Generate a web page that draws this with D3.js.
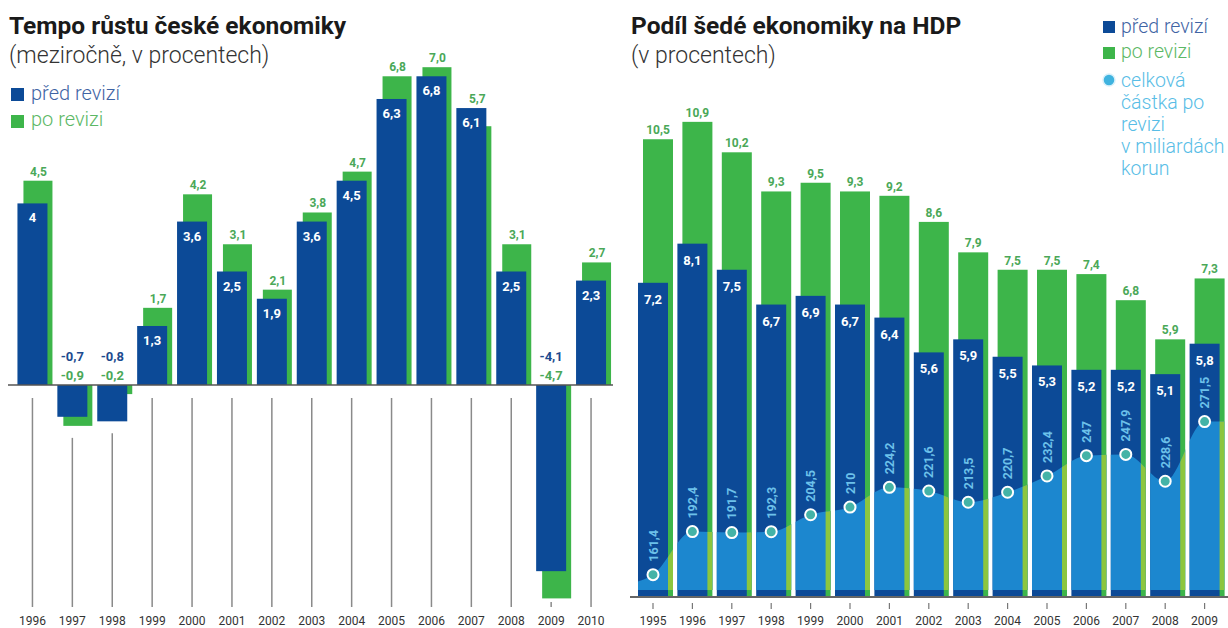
<!DOCTYPE html>
<html>
<head>
<meta charset="utf-8">
<script src="https://cdnjs.cloudflare.com/ajax/libs/d3/7.8.5/d3.min.js"></script>
<style>
  body { margin: 0; background: #fff; }
  svg { display: block; font-family: Roboto, "Open Sans", sans-serif; }
</style>
</head>
<body>
<svg width="1228" height="628"></svg>
<script>
// left chart: growth of the czech economy
var yearsL = ['1996','1997','1998','1999','2000','2001','2002','2003','2004','2005','2006','2007','2008','2009','2010'];
var beforeL = ['4','-0,7','-0,8','1,3','3,6','2,5','1,9','3,6','4,5','6,3','6,8','6,1','2,5','-4,1','2,3'];
var afterL = ['4,5','-0,9','-0,2','1,7','4,2','3,1','2,1','3,8','4,7','6,8','7,0','5,7','3,1','-4,7','2,7'];

// right chart: grey economy share of GDP
var yearsR = ['1995','1996','1997','1998','1999','2000','2001','2002','2003','2004','2005','2006','2007','2008','2009'];
var beforeR = ['7,2','8,1','7,5','6,7','6,9','6,7','6,4','5,6','5,9','5,5','5,3','5,2','5,2','5,1','5,8'];
var afterR = ['10,5','10,9','10,2','9,3','9,5','9,3','9,2','8,6','7,9','7,5','7,5','7,4','6,8','5,9','7,3'];
var amountR = ['161,4','192,4','191,7','192,3','204,5','210','224,2','221,6','213,5','220,7','232,4','247','247,9','228,6','271,5'];

var num = function(s) { return +s.replace(',', '.'); };

var blue = '#0c4a97',
    green = '#3db54a',
    greenText = '#4aa858',
    lightBlue = '#1c87cf',
    lightGreen = '#8cc63f',
    cyanText = '#6cc1ea';

var svg = d3.select('svg');

// ---------- left chart ----------
var xL = d3.scaleBand().domain(yearsL).range([12.5, 611]);
var yL = d3.scaleLinear().domain([-4.7, 7]).range([598.4, 67.2]);
var bw = 30, gOff = 6, gw = 29;
var cL = function(d) { return xL(d) + xL.bandwidth() / 2; };

var left = svg.append('g');

left.append('text').attr('x', 9).attr('y', 34)
    .attr('font-size', 24.5).attr('font-weight', 'bold').attr('fill', '#1a1a1a')
    .text('Tempo růstu české ekonomiky');
left.append('text').attr('x', 9).attr('y', 63)
    .attr('font-size', 23).attr('font-weight', 300).attr('fill', '#333')
    .text('(meziročně, v procentech)');

var legL = [['před revizí', blue, '#3f64a4'], ['po revizi', green, '#5cb865']];
legL.forEach(function(l, i) {
    left.append('rect').attr('x', 11).attr('y', 88 + i * 27).attr('width', 13).attr('height', 13).attr('fill', l[1]);
    left.append('text').attr('x', 31).attr('y', 100 + i * 26).attr('font-size', 20).attr('font-weight', 300)
        .attr('fill', l[2]).text(l[0]);
});

// tick lines below the zero line
left.append('g').selectAll('line').data(yearsL).enter().append('line')
    .attr('x1', cL).attr('x2', cL)
    .attr('y1', function(d, i) {
        var low = Math.min(0, num(beforeL[i]), num(afterL[i]));
        return Math.min(602, Math.max(398, yL(low) + 12));
    })
    .attr('y2', 607)
    .attr('stroke', '#8a8a8a').attr('stroke-width', 1.5);

left.append('g').selectAll('rect').data(yearsL).enter().append('rect')
    .attr('x', function(d) { return cL(d) - bw / 2 + gOff; })
    .attr('width', gw)
    .attr('y', function(d, i) { return Math.min(yL(0), yL(num(afterL[i]))); })
    .attr('height', function(d, i) { return Math.abs(yL(num(afterL[i])) - yL(0)); })
    .attr('fill', green);

left.append('g').selectAll('rect').data(yearsL).enter().append('rect')
    .attr('x', function(d) { return cL(d) - bw / 2; })
    .attr('width', bw)
    .attr('y', function(d, i) { return Math.min(yL(0), yL(num(beforeL[i]))); })
    .attr('height', function(d, i) { return Math.abs(yL(num(beforeL[i])) - yL(0)); })
    .attr('fill', blue);

left.append('line').attr('x1', 8).attr('x2', 613).attr('y1', yL(0)).attr('y2', yL(0))
    .attr('stroke', '#555').attr('stroke-width', 1.5);

// labels
yearsL.forEach(function(d, i) {
    var b = num(beforeL[i]), a = num(afterL[i]);
    if (b >= 0) {
        left.append('text').attr('x', cL(d)).attr('y', yL(b) + 19)
            .attr('text-anchor', 'middle').attr('font-size', 13).attr('font-weight', 'bold')
            .attr('fill', '#fff').text(beforeL[i]);
        left.append('text').attr('x', cL(d) + gOff).attr('y', yL(Math.max(a, b)) - 5)
            .attr('text-anchor', 'middle').attr('font-size', 12).attr('font-weight', 'bold')
            .attr('fill', greenText).text(afterL[i]);
    } else {
        left.append('text').attr('x', cL(d)).attr('y', yL(0) - 24)
            .attr('text-anchor', 'middle').attr('font-size', 13).attr('font-weight', 'bold')
            .attr('fill', '#1d4b8f').text(beforeL[i]);
        left.append('text').attr('x', cL(d)).attr('y', yL(0) - 5)
            .attr('text-anchor', 'middle').attr('font-size', 13).attr('font-weight', 'bold')
            .attr('fill', greenText).text(afterL[i]);
    }
});

left.append('g').selectAll('text').data(yearsL).enter().append('text')
    .attr('x', cL).attr('y', 625).attr('text-anchor', 'middle')
    .attr('font-size', 12).attr('fill', '#333').text(function(d) { return d; });

// ---------- right chart ----------
var xR = d3.scaleBand().domain(yearsR).range([633.3, 1224.3]);
var yR = d3.scaleLinear().domain([0, 11]).range([596, 117.5]);
var yA = d3.scaleLinear().domain([150, 280]).range([590.5, 409.8]);
var cR = function(d) { return xR(d) + xR.bandwidth() / 2; };
var rw = 30, rOff = 5;

var right = svg.append('g');

right.append('text').attr('x', 631).attr('y', 34)
    .attr('font-size', 24.5).attr('font-weight', 'bold').attr('fill', '#1a1a1a')
    .text('Podíl šedé ekonomiky na HDP');
right.append('text').attr('x', 631).attr('y', 63)
    .attr('font-size', 23).attr('font-weight', 300).attr('fill', '#333')
    .text('(v procentech)');

right.append('rect').attr('x', 1103).attr('y', 21).attr('width', 12).attr('height', 12).attr('fill', blue);
right.append('text').attr('x', 1121).attr('y', 33).attr('font-size', 19.5).attr('font-weight', 300)
    .attr('fill', '#3f64a4').text('před revizí');
right.append('rect').attr('x', 1103).attr('y', 47).attr('width', 12).attr('height', 12).attr('fill', green);
right.append('text').attr('x', 1121).attr('y', 58).attr('font-size', 19.5).attr('font-weight', 300)
    .attr('fill', '#5cb865').text('po revizi');
right.append('circle').attr('cx', 1109).attr('cy', 80).attr('r', 6)
    .attr('fill', '#3fb3df').attr('stroke', '#d8f0fa').attr('stroke-width', 1.5);
['celková', 'částka po', 'revizi', 'v miliardách', 'korun'].forEach(function(t, i) {
    right.append('text').attr('x', 1121).attr('y', 87 + i * 22).attr('font-size', 19.5).attr('font-weight', 300)
        .attr('fill', '#58bde6').text(t);
});

var defs = svg.append('defs');
var clipAll = defs.append('clipPath').attr('id', 'clipAll');
yearsR.forEach(function(d, i) {
    clipAll.append('rect').attr('x', cR(d) - rw / 2).attr('width', rw)
        .attr('y', yR(num(beforeR[i]))).attr('height', yR(0) - yR(num(beforeR[i])));
    clipAll.append('rect').attr('x', cR(d) - rw / 2 + rOff).attr('width', rw)
        .attr('y', yR(num(afterR[i]))).attr('height', yR(0) - yR(num(afterR[i])));
});
var clipStrip = defs.append('clipPath').attr('id', 'clipStrip');
yearsR.forEach(function(d) {
    clipStrip.append('rect').attr('x', cR(d) + rw / 2).attr('width', rOff)
        .attr('y', 0).attr('height', 628);
});

right.append('g').selectAll('rect').data(yearsR).enter().append('rect')
    .attr('x', function(d) { return cR(d) - rw / 2 + rOff; })
    .attr('width', rw)
    .attr('y', function(d, i) { return yR(num(afterR[i])); })
    .attr('height', function(d, i) { return yR(0) - yR(num(afterR[i])); })
    .attr('fill', green);

right.append('g').selectAll('rect').data(yearsR).enter().append('rect')
    .attr('x', function(d) { return cR(d) - rw / 2; })
    .attr('width', rw)
    .attr('y', function(d, i) { return yR(num(beforeR[i])); })
    .attr('height', function(d, i) { return yR(0) - yR(num(beforeR[i])); })
    .attr('fill', blue);

// area of the amount, extended flat to the outer bar edges
var pts = yearsR.map(function(d, i) { return [cR(d), num(amountR[i])]; });
pts.unshift([xR(yearsR[0]), num(amountR[0]) - 6]);
pts.push([xR(yearsR[yearsR.length - 1]) + xR.step(), num(amountR[amountR.length - 1])]);
var area = d3.area()
    .x(function(p) { return p[0]; })
    .y0(590)
    .y1(function(p) { return yA(p[1]); })
    .curve(d3.curveMonotoneX);

right.append('path').datum(pts).attr('d', area)
    .attr('fill', lightBlue).attr('clip-path', 'url(#clipAll)');
right.append('path').datum(pts).attr('d', area)
    .attr('fill', lightGreen).attr('clip-path', 'url(#clipStrip)');

right.append('line').attr('x1', 630).attr('x2', 1228).attr('y1', yR(0) + 1).attr('y2', yR(0) + 1)
    .attr('stroke', '#333').attr('stroke-width', 1.5);

right.append('g').selectAll('line').data(yearsR).enter().append('line')
    .attr('x1', cR).attr('x2', cR).attr('y1', 603).attr('y2', 609)
    .attr('stroke', '#777').attr('stroke-width', 1.2);

yearsR.forEach(function(d, i) {
    right.append('text').attr('x', cR(d)).attr('y', yR(num(beforeR[i])) + 21)
        .attr('text-anchor', 'middle').attr('font-size', 13).attr('font-weight', 'bold')
        .attr('fill', '#fff').text(beforeR[i]);
    right.append('text').attr('x', cR(d) + rOff).attr('y', yR(num(afterR[i])) - 5)
        .attr('text-anchor', 'middle').attr('font-size', 12).attr('font-weight', 'bold')
        .attr('fill', greenText).text(afterR[i]);
    right.append('text')
        .attr('transform', 'translate(' + (cR(d) + 4.5) + ',' + (yA(num(amountR[i])) - 13) + ') rotate(-90)')
        .attr('font-size', 12.5).attr('font-weight', 'bold')
        .attr('fill', cyanText).text(amountR[i]);
});

right.append('g').selectAll('circle').data(yearsR).enter().append('circle')
    .attr('cx', cR)
    .attr('cy', function(d, i) { return yA(num(amountR[i])); })
    .attr('r', 5.5)
    .attr('fill', '#44b3a7').attr('stroke', '#fff').attr('stroke-width', 2);

right.append('g').selectAll('text').data(yearsR).enter().append('text')
    .attr('x', cR).attr('y', 625).attr('text-anchor', 'middle')
    .attr('font-size', 12).attr('fill', '#333').text(function(d) { return d; });
</script>
</body>
</html>
